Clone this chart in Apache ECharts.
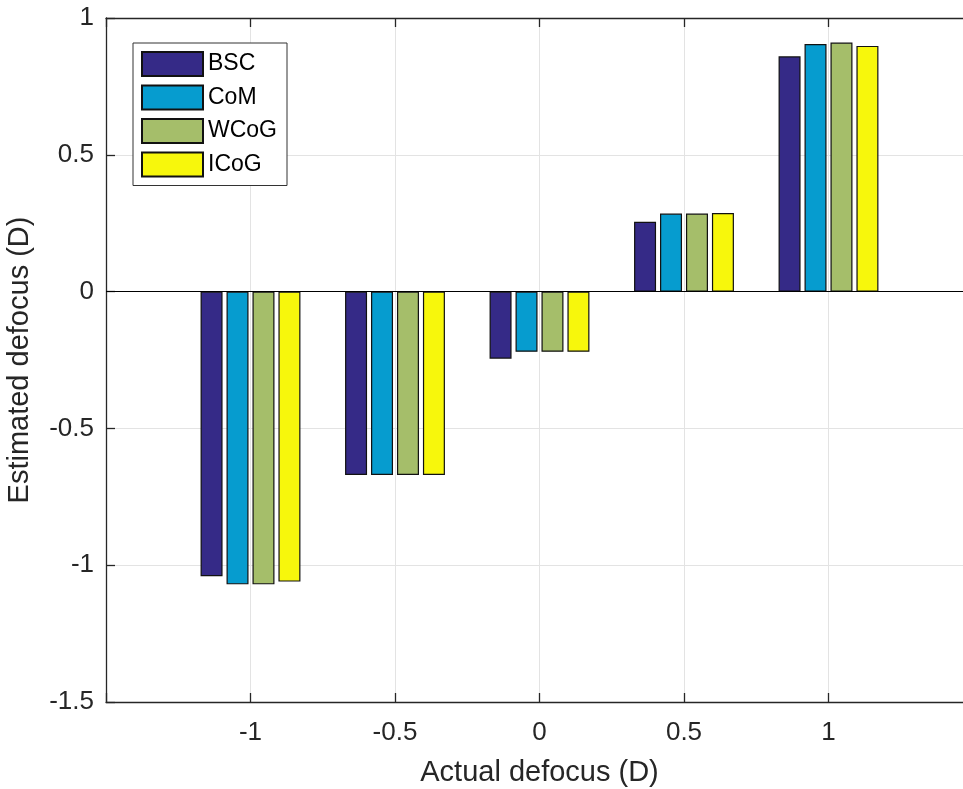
<!DOCTYPE html>
<html>
<head>
<meta charset="utf-8">
<script src="https://cdn.jsdelivr.net/npm/echarts@6/dist/echarts.min.js"></script>
<style>
  html, body { margin: 0; padding: 0; background: #fff; }
  #chart { width: 963px; height: 789px; }
</style>
</head>
<body>
<div id="chart"></div>
<script>
// actual defocus positions (D)
const defocus = [-1, -0.5, 0, 0.5, 1];
const methods = ["BSC", "CoM", "WCoG", "ICoG"];
const colors = ["#352a87", "#069ccf", "#a5be6a", "#f7f70c"];

// estimated defocus
const bsc  = [-1.04, -0.67, -0.245, 0.255, 0.86];
const com  = [-1.07, -0.67, -0.22, 0.285, 0.905];
const wcog = [-1.07, -0.67, -0.22, 0.285, 0.91];
const icog = [-1.06, -0.67, -0.22, 0.287, 0.898];
const values = [bsc, com, wcog, icog];

const font = "Liberation Sans, Arial, sans-serif";
const ink = "#262626";

const chart = echarts.init(document.getElementById("chart"));

const series = methods.map((name, i) => ({
  name: name,
  type: "bar",
  barWidth: 22,
  barGap: "18%",
  itemStyle: { color: colors[i], borderColor: "#111", borderWidth: 1.2 },
  data: defocus.map((x, j) => [x, values[i][j]]),
}));

// zero baseline
series[0].markLine = {
  silent: true,
  symbol: "none",
  label: { show: false },
  lineStyle: { color: "#000", width: 1.2, type: "solid" },
  data: [{ yAxis: 0 }],
};

const hideEdge = (v) => (Math.abs(v) === 1.5 ? "" : String(v));

chart.setOption({
  animation: false,
  textStyle: { fontFamily: font },
  grid: { left: 106, top: 18, right: -10, bottom: 87, outerBoundsMode: "none" },
  legend: {
    data: methods,
    orient: "vertical",
    left: 133,
    top: 43,
    itemWidth: 61,
    itemHeight: 24,
    itemGap: 7.5,
    padding: [8, 10, 8, 8],
    backgroundColor: "#fff",
    borderColor: "#333",
    borderWidth: 1,
    borderRadius: 0,
    icon: "rect",
    textStyle: { fontFamily: font, fontSize: 23, color: "#000" },
  },
  xAxis: [
    {
      type: "value",
      min: -1.5,
      max: 1.5,
      interval: 0.5,
      name: "Actual defocus (D)",
      nameLocation: "middle",
      nameGap: 56,
      nameTextStyle: { fontFamily: font, fontSize: 29, color: ink },
      axisLine: { show: true, onZero: false, lineStyle: { color: ink, width: 1.3 } },
      axisTick: { show: true, inside: true, length: 9, lineStyle: { color: ink, width: 1.3 } },
      axisLabel: { formatter: hideEdge, margin: 18, fontFamily: font, fontSize: 26, color: ink },
      splitLine: { show: true, lineStyle: { color: "#e3e3e3", width: 1 } },
    },
    {
      type: "value",
      position: "top",
      min: -1.5,
      max: 1.5,
      interval: 0.5,
      axisLine: { show: true, onZero: false, lineStyle: { color: ink, width: 1.3 } },
      axisTick: { show: true, inside: true, length: 9, lineStyle: { color: ink, width: 1.3 } },
      axisLabel: { show: false },
      splitLine: { show: false },
    },
  ],
  yAxis: {
    type: "value",
    min: -1.5,
    max: 1,
    interval: 0.5,
    name: "Estimated defocus (D)",
    nameLocation: "middle",
    nameGap: 72,
    nameTextStyle: { fontFamily: font, fontSize: 29, color: ink },
    axisLine: { show: true, onZero: false, lineStyle: { color: ink, width: 1.3 } },
    axisTick: { show: true, inside: true, length: 9, lineStyle: { color: ink, width: 1.3 } },
    axisLabel: { margin: 12, fontFamily: font, fontSize: 26, color: ink },
    splitLine: { show: true, lineStyle: { color: "#e3e3e3", width: 1 } },
  },
  series: series,
});
</script>
</body>
</html>
